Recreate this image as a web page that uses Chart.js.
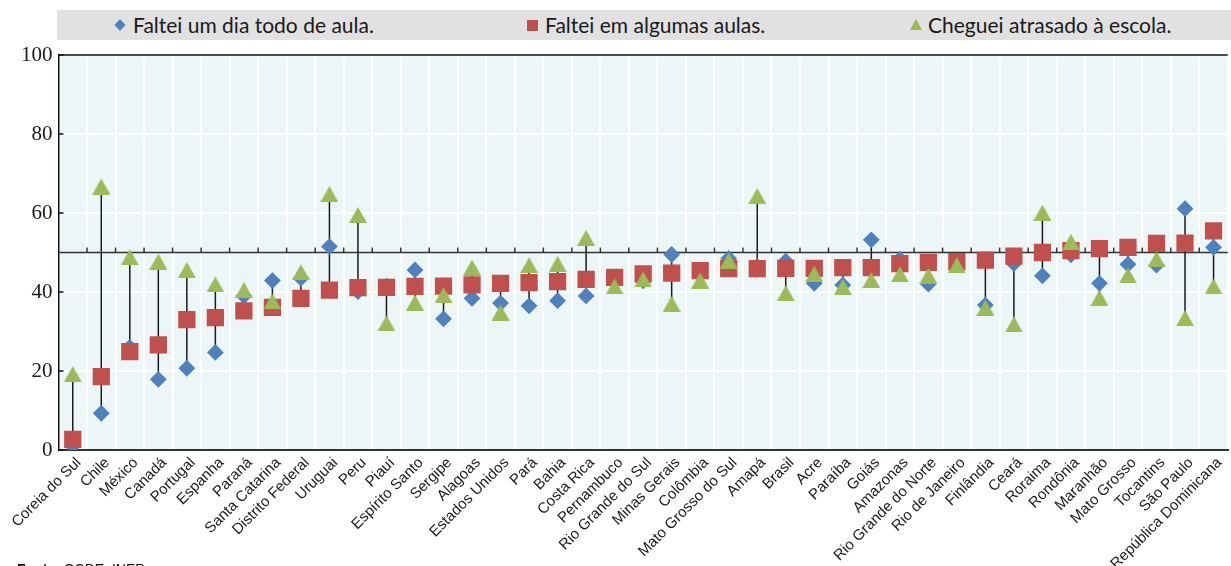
<!DOCTYPE html>
<html lang="pt-BR">
<head>
<meta charset="utf-8">
<title>Faltas e atrasos</title>
<script src="https://cdn.jsdelivr.net/npm/chart.js@4/dist/chart.umd.min.js"></script>
<style>
  html, body { margin: 0; padding: 0; background: #ffffff; }
  body { width: 1231px; height: 566px; overflow: hidden; position: relative; }
  #legend { position: absolute; left: 57px; top: 10px; width: 1174px; height: 30px;
            background: #e1e1e1; font-family: "Lato", "Open Sans", sans-serif; font-size: 21px;
            color: #1a1a1a; }
  .item { position: absolute; top: 0; height: 30px; line-height: 30px; white-space: nowrap; }
  .mk { position: absolute; }
  .mk.dia { width: 8px; height: 8px; background: #4F81BD; transform: rotate(45deg); top: 11px; }
  .mk.sq { width: 11px; height: 11px; background: #C0504D; top: 10px; }
  .mk.tri { width: 0; height: 0; border-left: 6px solid transparent; border-right: 6px solid transparent;
            border-bottom: 11px solid #9BBB59; top: 9px; }
  #wrap { position: absolute; left: 0; top: 0; width: 1240px; height: 566px; }
  #source { position: absolute; left: 17px; top: 562px; font-family: "Liberation Sans", Arial, sans-serif;
            font-size: 14px; line-height: 14px; color: #111; }
</style>
</head>
<body>
<div id="wrap"><canvas id="chart" width="1240" height="566"></canvas></div>
<div id="legend">
  <span class="mk dia" style="left:59px"></span><span class="item" style="left:76px">Faltei um dia todo de aula.</span>
  <span class="mk sq" style="left:470px"></span><span class="item" style="left:488px">Faltei em algumas aulas.</span>
  <span class="mk tri" style="left:853px"></span><span class="item" style="left:871px">Cheguei atrasado à escola.</span>
</div>
<div id="source"><b>Fonte:</b> OCDE, INEP</div>
<script>
// Países e unidades da federação, em ordem crescente de "Faltei em algumas aulas."
const categories = [
  "Coreia do Sul", "Chile", "México", "Canadá", "Portugal", "Espanha", "Paraná",
  "Santa Catarina", "Distrito Federal", "Uruguai", "Peru", "Piauí", "Espírito Santo",
  "Sergipe", "Alagoas", "Estados Unidos", "Pará", "Bahia", "Costa Rica", "Pernambuco",
  "Rio Grande do Sul", "Minas Gerais", "Colômbia", "Mato Grosso do Sul", "Amapá", "Brasil",
  "Acre", "Paraíba", "Goiás", "Amazonas", "Rio Grande do Norte", "Rio de Janeiro",
  "Finlândia", "Ceará", "Roraima", "Rondônia", "Maranhão", "Mato Grosso", "Tocantins",
  "São Paulo", "República Dominicana"
];

// Percentual de estudantes (%)
const faltouDiaTodo = [
  1.0, 9.3, 26.0, 17.9, 20.7, 24.7, 39.0, 42.9, 43.5, 51.5, 40.1, 41.5, 45.6,
  33.2, 38.4, 37.2, 36.5, 37.8, 39.0, 43.5, 42.8, 49.5, 45.0, 48.5, 46.5, 47.8,
  42.2, 41.8, 53.2, 48.3, 42.0, 47.0, 36.7, 47.2, 44.1, 49.4, 42.2, 47.0, 46.8,
  61.1, 51.3
];
const faltouAlgumasAulas = [
  2.7, 18.6, 24.9, 26.6, 33.0, 33.5, 35.2, 36.1, 38.4, 40.5, 41.1, 41.2, 41.4,
  41.5, 41.8, 42.2, 42.4, 42.6, 43.2, 43.7, 44.6, 44.8, 45.4, 45.9, 45.9, 46.0,
  46.0, 46.2, 46.2, 47.2, 47.5, 47.7, 48.1, 49.1, 50.0, 50.5, 51.0, 51.3, 52.3,
  52.4, 55.5
];
const chegouAtrasado = [
  19.2, 66.7, 48.8, 47.7, 45.6, 41.9, 40.5, 37.6, 45.0, 64.8, 59.5, 32.1, 37.3,
  39.2, 46.2, 34.8, 46.8, 47.1, 53.7, 41.4, 43.2, 37.0, 42.9, 47.9, 64.3, 39.7,
  44.6, 41.3, 43.0, 44.5, 44.1, 46.8, 36.0, 31.8, 60.1, 52.7, 38.5, 44.2, 48.3,
  33.4, 41.4
];

// Eixo vertical
const yTicks = [0, 20, 40, 60, 80, 100];
const crossValue = 50; // o eixo das categorias cruza em 50

const COLORS = { blue: "#4F81BD", red: "#C0504D", green: "#9BBB59", plot: "#edf6f7" };

// Marcador triangular centrado no ponto
function triangleMarker(w, h, color) {
  const c = document.createElement("canvas");
  c.width = w; c.height = h;
  const g = c.getContext("2d");
  g.fillStyle = color;
  g.beginPath();
  g.moveTo(w / 2, 0);
  g.lineTo(w, h);
  g.lineTo(0, h);
  g.closePath();
  g.fill();
  return c;
}

// Fundo da área de plotagem
const plotBackground = {
  id: "plotBackground",
  beforeDraw(chart) {
    const { ctx, chartArea: a } = chart;
    ctx.save();
    ctx.fillStyle = COLORS.plot;
    ctx.fillRect(a.left, a.top, a.right - a.left, a.bottom - a.top);
    ctx.restore();
  }
};

// Hastes verticais entre o menor e o maior valor de cada categoria,
// linha de cruzamento em 50 com marcas e bordas
const stemsAndAxis = {
  id: "stemsAndAxis",
  beforeDatasetsDraw(chart) {
    const { ctx, chartArea: a, scales: { x, y } } = chart;
    ctx.save();
    // borda superior
    ctx.strokeStyle = "#111";
    ctx.lineWidth = 1.5;
    ctx.beginPath();
    ctx.moveTo(a.left, a.top);
    ctx.lineTo(a.right, a.top);
    ctx.stroke();
    // marcas internas do eixo vertical
    yTicks.forEach(v => {
      const py = y.getPixelForValue(v);
      ctx.beginPath();
      ctx.moveTo(a.left, py);
      ctx.lineTo(a.left + 5, py);
      ctx.stroke();
    });
    // linha em 50 com marcas entre categorias
    const yc = y.getPixelForValue(crossValue);
    ctx.strokeStyle = "#333";
    ctx.beginPath();
    ctx.moveTo(a.left, yc);
    ctx.lineTo(a.right, yc);
    ctx.stroke();
    for (let i = 1; i < categories.length; i++) {
      const px = (x.getPixelForValue(i - 1) + x.getPixelForValue(i)) / 2;
      ctx.beginPath();
      ctx.moveTo(px, yc);
      ctx.lineTo(px, yc - 5);
      ctx.stroke();
    }
    // hastes
    ctx.strokeStyle = "#1a1a1a";
    categories.forEach((_, i) => {
      const vals = [faltouDiaTodo[i], faltouAlgumasAulas[i], chegouAtrasado[i]];
      const lo = Math.min(...vals), hi = Math.max(...vals);
      const px = x.getPixelForValue(i);
      ctx.beginPath();
      ctx.moveTo(px, y.getPixelForValue(lo));
      ctx.lineTo(px, y.getPixelForValue(hi));
      ctx.stroke();
    });
    ctx.restore();
  }
};

new Chart(document.getElementById("chart"), {
  type: "line",
  data: {
    labels: categories,
    datasets: [
      {
        label: "Faltei um dia todo de aula.",
        data: faltouDiaTodo,
        showLine: false,
        pointStyle: "rectRot",
        pointRadius: 8.4,
        pointBackgroundColor: COLORS.blue,
        pointBorderWidth: 0,
        order: 3
      },
      {
        label: "Faltei em algumas aulas.",
        data: faltouAlgumasAulas,
        showLine: false,
        pointStyle: "rect",
        pointRadius: 12.2,
        pointBackgroundColor: COLORS.red,
        pointBorderWidth: 0,
        order: 2
      },
      {
        label: "Cheguei atrasado à escola.",
        data: chegouAtrasado,
        showLine: false,
        pointStyle: triangleMarker(18, 16, COLORS.green),
        pointRadius: 9,
        pointBackgroundColor: COLORS.green,
        pointBorderWidth: 0,
        order: 1
      }
    ]
  },
  options: {
    responsive: false,
    animation: false,
    layout: { padding: { left: 0, top: 55, right: 4.8, bottom: 0 } },
    plugins: { legend: { display: false }, tooltip: { enabled: false } },
    scales: {
      x: {
        type: "category",
        offset: true,
        grid: { offset: true, color: "#ffffff", lineWidth: 2, drawTicks: false },
        border: { display: true, color: "#333", width: 2 },
        ticks: {
          autoSkip: false, minRotation: 45, maxRotation: 45, padding: 4, labelOffset: 6,
          color: "#1a1a1a",
          font: { family: "'Liberation Sans', Arial, sans-serif", size: 15 }
        },
        afterFit(scale) { scale.height = 116; scale.paddingLeft = 0; scale.paddingRight = 0; }
      },
      y: {
        min: 0, max: 100,
        afterBuildTicks(scale) { scale.ticks = yTicks.map(v => ({ value: v })); },
        grid: { color: "#ffffff", lineWidth: 2, drawTicks: false },
        border: { display: true, color: "#111", width: 1.5 },
        ticks: {
          padding: 6, color: "#1a1a1a",
          font: { family: "'Liberation Serif', 'DejaVu Serif', serif", size: 21 }
        },
        afterFit(scale) { scale.width = 58.5; scale.paddingTop = 0; scale.paddingBottom = 0; }
      }
    }
  },
  plugins: [plotBackground, stemsAndAxis]
});
</script>
</body>
</html>
